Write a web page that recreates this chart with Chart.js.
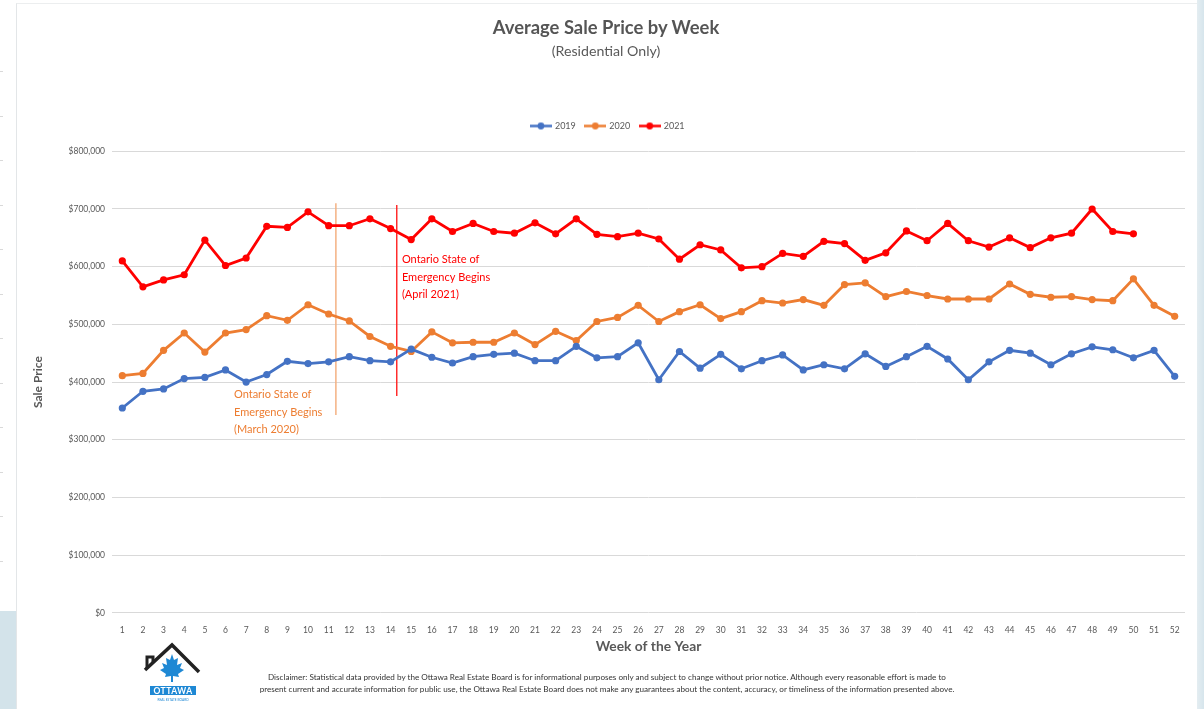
<!DOCTYPE html>
<html>
<head>
<meta charset="utf-8">
<script src="https://cdn.jsdelivr.net/npm/chart.js@4.4.1/dist/chart.umd.min.js"></script>
<style>
  html, body { margin: 0; padding: 0; background: #fff; }
  #wrap { position: relative; width: 1204px; height: 709px; overflow: hidden; background: #fff; font-family: Lato, "Open Sans", sans-serif; color: #595959; }
  #panel { position: absolute; left: 16px; top: 3px; width: 1180px; height: 720px; border-left: 1px solid #e3e6e8; border-top: 1px solid #eceeef; border-right: 1px solid #e3e6e8; background: #fff; }
  #blueLeft { position: absolute; left: 0; top: 611px; width: 16px; height: 98px; background: #d3e3ea; }
  #blueRight { position: absolute; left: 1197px; top: 0; width: 7px; height: 709px; background: linear-gradient(to right, #e4edf1, #d6e5ec); }
  .tick { position: absolute; left: 0; width: 3px; height: 1px; background: #d9d9d9; }
  canvas#c { position: absolute; left: 0; top: 0; }
  .t { position: absolute; white-space: nowrap; transform: translateX(-50%); }
  #title { left: 606px; top: 15px; font-size: 18.4px; font-weight: 700; line-height: 24px; color: #555; }
  #subtitle { left: 606px; top: 42px; font-size: 14.2px; line-height: 18px; }
  .disc { left: 607px; font-size: 8.15px; line-height: 10px; color: #333; }
  #logo { position: absolute; left: 143px; top: 640px; }
</style>
</head>
<body>
<div id="wrap">
  <div id="panel"></div>
  <div id="blueLeft"></div>
  <div id="blueRight"></div>
  <canvas id="c" width="1204" height="709"></canvas>
  <div id="title" class="t">Average Sale Price by Week</div>
  <div id="subtitle" class="t">(Residential Only)</div>
  <div class="t disc" style="top:672px">Disclaimer: Statistical data provided by the Ottawa Real Estate Board is for informational purposes only and subject to change without prior notice. Although every reasonable effort is made to</div>
  <div class="t disc" style="top:684px">present current and accurate information for public use, the Ottawa Real Estate Board does not make any guarantees about the content, accuracy, or timeliness of the information presented above.</div>
  <svg id="logo" width="60" height="64" viewBox="0 0 60 64">
    <polyline points="4,28 4,17 10,17 10,22" fill="none" stroke="#222" stroke-width="3"/>
    <polyline points="2,30 29,5 56,32" fill="none" stroke="#222" stroke-width="3.5" stroke-linejoin="miter"/>
    <path d="M29,14 L31,20 L35,18 L34,25 L39,23 L37,28 L41,30 L35,34 L36,37 L30,36 L30,42 L28,42 L28,36 L22,37 L23,34 L17,30 L21,28 L19,23 L24,25 L23,18 L27,20 Z" fill="#1e88d4"/>
    <rect x="7" y="46" width="46" height="9" fill="#1e88d4"/>
    <text x="30" y="54" text-anchor="middle" font-family="Lato, sans-serif" font-weight="700" font-size="8.5" fill="#fff" letter-spacing="0.5">OTTAWA</text>
    <text x="30" y="61" text-anchor="middle" font-family="Lato, sans-serif" font-size="3.2" fill="#1e88d4">REAL ESTATE BOARD</text>
  </svg>
</div>
<script>
// ---------------- data ----------------
const weeks = Array.from({length: 52}, (_, i) => String(i + 1));
const seriesNames = ['2019', '2020', '2021'];
const price2019 = [355000,384000,388000,406000,408000,421000,400000,413000,436000,432000,
                   435000,444000,437000,435000,457000,443000,433000,444000,448000,450000,
                   437000,437000,462000,442000,444000,468000,404000,453000,424000,448000,
                   423000,437000,447000,421000,430000,423000,449000,427000,444000,462000,
                   440000,404000,435000,455000,450000,430000,449000,461000,456000,442000,
                   455000,410000];
const price2020 = [411000,415000,455000,485000,452000,485000,491000,515000,507000,534000,
                   518000,506000,479000,462000,453000,487000,468000,469000,469000,485000,
                   465000,488000,472000,505000,512000,533000,505000,522000,534000,510000,
                   522000,541000,537000,543000,533000,569000,572000,548000,557000,550000,
                   544000,544000,544000,570000,552000,547000,548000,543000,541000,579000,
                   533000,514000];
const price2021 = [610000,565000,577000,586000,646000,602000,615000,670000,668000,695000,
                   671000,671000,683000,666000,647000,683000,661000,675000,661000,658000,
                   676000,657000,683000,656000,652000,658000,648000,613000,638000,629000,
                   598000,600000,623000,618000,644000,640000,611000,624000,662000,645000,
                   675000,645000,634000,650000,633000,650000,658000,700000,661000,657000];
const yTicks = [0, 100000, 200000, 300000, 400000, 500000, 600000, 700000, 800000];
const seriesColors = ['#4472C4', '#ED7D31', '#FF0000'];

// annotation notes (week position as 0-based fractional index, values in $)
const notes = [
  { lineAt: 10.35, lineFrom: 343000, lineTo: 710000, lineColor: '#F4B183', lineWidth: 1.5,
    textAt: 5.41, textTop: 378000, textColor: '#ED7D31',
    lines: ['Ontario State of', 'Emergency Begins', '(March 2020)'] },
  { lineAt: 13.3, lineFrom: 376000, lineTo: 707000, lineColor: '#FF2020', lineWidth: 1.4,
    textAt: 13.55, textTop: 612000, textColor: '#FF0000',
    lines: ['Ontario State of', 'Emergency Begins', '(April 2021)'] }
];

// --------------- decorations ---------------
const wrap = document.getElementById('wrap');
for (let y = 71; y < 600; y += 44.5) {
  const d = document.createElement('div'); d.className = 'tick'; d.style.top = Math.round(y) + 'px'; wrap.appendChild(d);
}

// --------------- chart ---------------
Chart.defaults.font.family = 'Lato, "Open Sans", sans-serif';
Chart.defaults.color = '#595959';

function legendIcon(color) {
  const c = document.createElement('canvas');
  c.width = 22; c.height = 9;
  const g = c.getContext('2d');
  g.strokeStyle = color; g.lineWidth = 2.5;
  g.beginPath(); g.moveTo(0, 4.5); g.lineTo(22, 4.5); g.stroke();
  g.fillStyle = color; g.beginPath(); g.arc(11, 4.5, 3.4, 0, Math.PI * 2); g.fill();
  return c;
}
const icons = seriesColors.map(legendIcon);

const notesPlugin = {
  id: 'notes',
  beforeDatasetsDraw(chart) {
    const {ctx, scales: {x, y}} = chart;
    notes.forEach(n => {
      ctx.save();
      const px = x.getPixelForValue(n.lineAt);
      ctx.strokeStyle = n.lineColor; ctx.lineWidth = n.lineWidth;
      ctx.beginPath(); ctx.moveTo(px, y.getPixelForValue(n.lineTo)); ctx.lineTo(px, y.getPixelForValue(n.lineFrom)); ctx.stroke();
      ctx.restore();
    });
  },
  afterDatasetsDraw(chart) {
    const {ctx, scales: {x, y}} = chart;
    ctx.save();
    ctx.font = '11px Lato, "Open Sans", sans-serif';
    ctx.textAlign = 'left'; ctx.textBaseline = 'middle';
    notes.forEach(n => {
      ctx.fillStyle = n.textColor;
      const tx = x.getPixelForValue(n.textAt), ty = y.getPixelForValue(n.textTop);
      n.lines.forEach((s, i) => ctx.fillText(s, tx, ty + i * 17.5));
    });
    ctx.restore();
  }
};

const legendPad = {
  id: 'legendPad',
  beforeUpdate(chart) {
    const lg = chart.legend;
    if (lg && !lg._padded) {
      const orig = lg.fit;
      lg.fit = function () { orig.call(this); if (this.options.display) this.height += 10.8; };
      lg._padded = true;
    }
  }
};

function ds(label, data, color) {
  return { label, data, borderColor: color, backgroundColor: color, borderWidth: 2.8,
           pointRadius: 3.6, pointHoverRadius: 3.6, pointBackgroundColor: color, pointBorderColor: color,
           pointBorderWidth: 0, tension: 0, fill: false };
}

new Chart(document.getElementById('c'), {
  type: 'line',
  data: {
    labels: weeks,
    datasets: [
      ds(seriesNames[0], price2019, seriesColors[0]),
      ds(seriesNames[1], price2020, seriesColors[1]),
      ds(seriesNames[2], price2021, seriesColors[2])
    ]
  },
  options: {
    responsive: false,
    animation: false,
    devicePixelRatio: 1,
    layout: { padding: { left: 31, right: 19, top: 111.5, bottom: 54 } },
    plugins: {
      tooltip: { enabled: false },
      legend: {
        position: 'top',
        labels: {
          usePointStyle: true, pointStyleWidth: 19, padding: 10,
          font: { size: 9 }, color: '#595959',
          generateLabels(chart) {
            return Chart.defaults.plugins.legend.labels.generateLabels(chart)
              .map(l => Object.assign(l, { pointStyle: icons[l.datasetIndex] }));
          }
        }
      }
    },
    scales: {
      x: {
        offset: true,
        grid: { display: false, drawTicks: false },
        border: { display: false },
        ticks: { padding: 12.5, font: { size: 8.5 }, color: '#595959', maxRotation: 0, autoSkip: false },
        title: { display: true, text: 'Week of the Year', font: { size: 13.8, weight: 'bold' }, color: '#595959', padding: { top: 0, bottom: 0 } },
        afterFit(s) { s.height = 42.2; }
      },
      y: {
        min: 0, max: 800000,
        afterBuildTicks(s) { s.ticks = yTicks.map(v => ({ value: v })); },
        grid: { color: '#d9d9d9', lineWidth: 1, drawTicks: false },
        border: { display: false },
        ticks: { padding: 7, font: { size: 8.5 }, color: '#595959',
                 callback: v => '$' + Number(v).toLocaleString('en-US') },
        title: { display: true, text: 'Sale Price', font: { size: 12, weight: 'bold' }, color: '#595959', padding: { top: 0, bottom: 0 } },
        afterFit(s) { s.width = 81; }
      }
    }
  },
  plugins: [legendPad, notesPlugin]
});
</script>
</body>
</html>
